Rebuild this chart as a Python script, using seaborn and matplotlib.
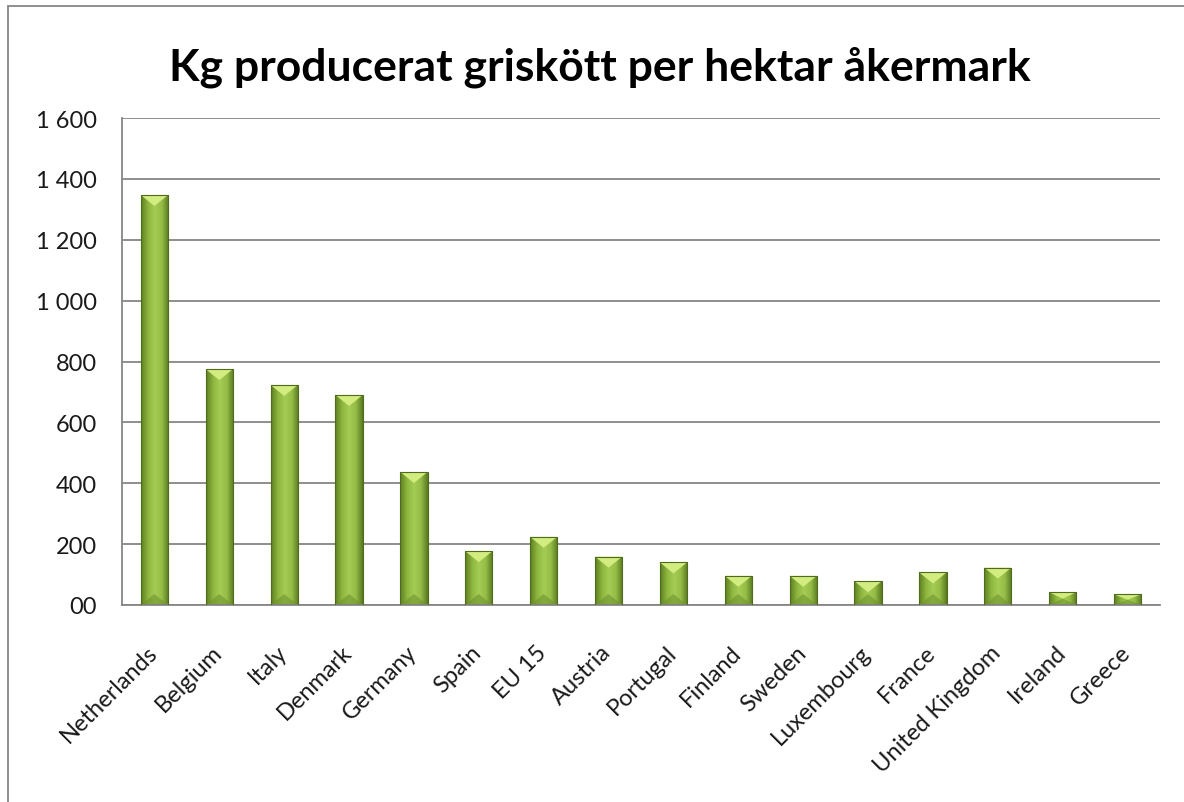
import numpy as np
import pandas as pd
import matplotlib
matplotlib.use("Agg")
import matplotlib.pyplot as plt
import matplotlib.transforms as mtransforms
import seaborn as sns
from matplotlib.colors import LinearSegmentedColormap
from matplotlib.patches import Polygon, Rectangle
from matplotlib.ticker import FuncFormatter

# ------------------------------------------------------------------------
# Data
# ------------------------------------------------------------------------
countries = ["Netherlands", "Belgium", "Italy", "Denmark", "Germany", "Spain",
             "EU 15", "Austria", "Portugal", "Finland", "Sweden", "Luxembourg",
             "France", "United Kingdom", "Ireland", "Greece"]
kg_per_ha = [1347, 775, 723, 690, 437, 177, 224, 159, 140, 96, 96, 78,
             107, 123, 42, 35]

title = "Kg producerat griskött per hektar åkermark"

df = pd.DataFrame({"country": countries, "kg": kg_per_ha})

# ------------------------------------------------------------------------
# Style
# ------------------------------------------------------------------------
sns.set_style("white")
plt.rcParams["font.family"] = ["Lato", "DejaVu Sans"]

grid_col = "#868686"

fig = plt.figure(figsize=(11.84, 8.03), dpi=100)
W, H = 1184, 803
ax = fig.add_axes([122 / W, 1 - 606 / H, (1160 - 122) / W, (606 - 119) / H])

sns.barplot(data=df, x="country", y="kg", ax=ax, width=0.42,
            color="#8db33a", saturation=1, edgecolor="#4f6b1c", linewidth=0.8)

ax.set_ylim(0, 1600)
ax.set_xlim(-0.5, len(countries) - 0.5)
ax.set_yticks(np.arange(0, 1601, 200))
ax.yaxis.set_major_formatter(
    FuncFormatter(lambda v, _: "00" if v == 0 else f"{int(v):,}".replace(",", " ")))

ax.set_axisbelow(True)
ax.yaxis.grid(True, color=grid_col, linewidth=1.3)
for side in ["top", "right"]:
    ax.spines[side].set_visible(False)
for side in ["left", "bottom"]:
    ax.spines[side].set_color(grid_col)
    ax.spines[side].set_linewidth(1.3)

ax.tick_params(axis="y", length=8, width=1.3, color=grid_col, labelsize=17,
               pad=10, labelcolor="#1a1a1a")
ax.tick_params(axis="x", length=0, labelsize=17, pad=26, labelcolor="#1a1a1a")
shift = mtransforms.ScaledTranslation(-8 / 100, 0, fig.dpi_scale_trans)
for lbl in ax.get_xticklabels():
    lbl.set_rotation(45)
    lbl.set_ha("right")
    lbl.set_rotation_mode("anchor")
    lbl.set_transform(lbl.get_transform() + shift)
ax.set_xlabel("")
ax.set_ylabel("")

# ------------------------------------------------------------------------
# Gradient / bevel look on the bars
# ------------------------------------------------------------------------
cmap = LinearSegmentedColormap.from_list(
    "bar", ["#5e7f22", "#8db63e", "#a5cd55", "#95bd47", "#5a7a20"])
grad = np.linspace(0, 1, 64).reshape(1, -1)

fig.canvas.draw()
px_per_unit = ax.get_window_extent().height / 1600.0
bevel = 11 / px_per_unit

for p in list(ax.patches):
    x0, y0 = p.get_x(), p.get_y()
    w, h = p.get_width(), p.get_height()
    p.set_facecolor("none")
    p.set_zorder(3)
    im = ax.imshow(grad, extent=[x0, x0 + w, y0, y0 + h], aspect="auto",
                   cmap=cmap, zorder=2, interpolation="bilinear")
    im.set_clip_path(p)
    d = min(bevel, h * 0.5)
    top = Polygon([(x0, y0 + h), (x0 + w, y0 + h), (x0 + w / 2, y0 + h - d)],
                  closed=True, facecolor="#d2ec80", edgecolor="none", zorder=2.5)
    bot = Polygon([(x0, y0), (x0 + w, y0), (x0 + w / 2, y0 + d)],
                  closed=True, facecolor="#6f9230", edgecolor="none",
                  alpha=0.6, zorder=2.5)
    ax.add_patch(top)
    ax.add_patch(bot)

ax.set_ylim(0, 1600)
ax.set_xlim(-0.5, len(countries) - 0.5)

# ------------------------------------------------------------------------
# Title and outer frame
# ------------------------------------------------------------------------
fig.text(600 / W, 1 - 80 / H, title, ha="center", va="baseline",
         fontsize=32, fontweight="bold", color="black")

fig.add_artist(Rectangle((8 / W, -0.5), 2.0, 1 - 7 / H + 0.5,
                         transform=fig.transFigure, fill=False,
                         edgecolor=grid_col, linewidth=1.3))

fig.savefig("out.png", dpi=100)
